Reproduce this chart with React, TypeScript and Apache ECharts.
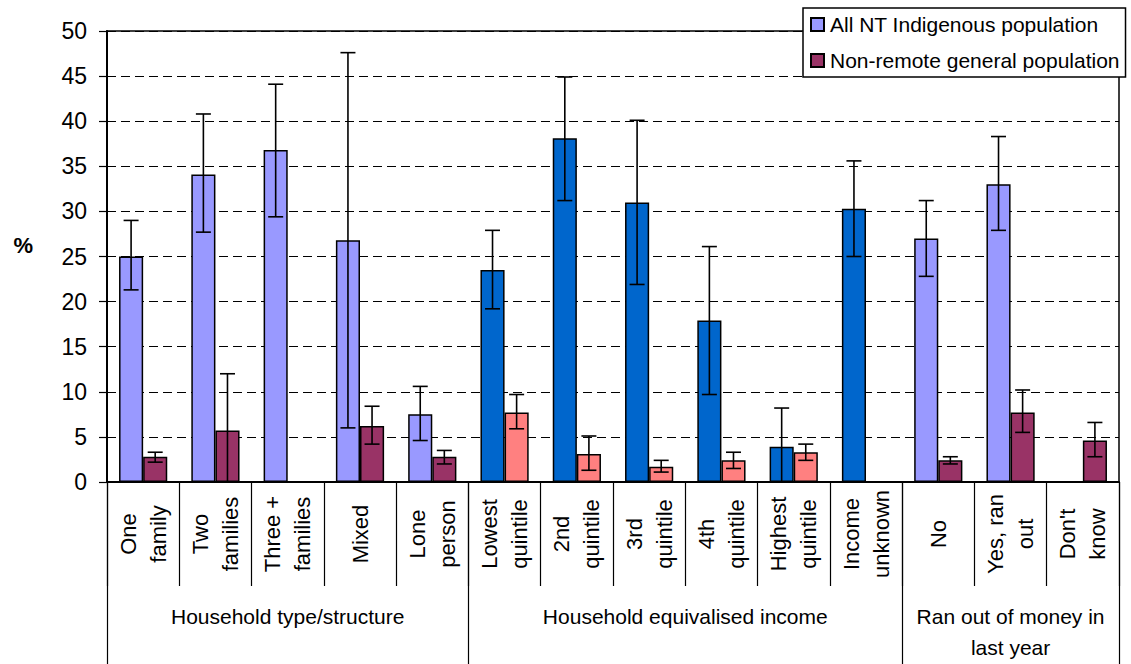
import { useEffect, useRef } from 'react';
import * as echarts from 'echarts';

// Category labels along the x axis (two-line labels are drawn rotated)
const categories = [
  'One\nfamily',
  'Two\nfamilies',
  'Three +\nfamilies',
  'Mixed',
  'Lone\nperson',
  'Lowest\nquintile',
  '2nd\nquintile',
  '3rd\nquintile',
  '4th\nquintile',
  'Highest\nquintile',
  'Income\nunknown',
  'No',
  'Yes, ran\nout',
  "Don't\nknow",
];

// Group headings under the category labels
const groupNames = ['Household type/structure', 'Household equivalised income', 'Ran out of money in\nlast year'];
const groupBounds = [0, 5, 11, 14];
const groupCentres = [2.5, 8, 12.5];
const groupOfCategory = [0, 0, 0, 0, 0, 1, 1, 1, 1, 1, 1, 2, 2, 2];

const seriesNames = ['All NT Indigenous population', 'Non-remote general population'];

// All NT Indigenous population (%), with 95% confidence limits
const indigenous = [25.0, 34.1, 36.8, 26.8, 7.5, 23.5, 38.1, 31.0, 17.9, 3.9, 30.3, 27.0, 33.0, null];
const indigenousLow = [21.3, 27.7, 29.4, 6.0, 4.6, 19.2, 31.2, 21.9, 9.7, 0, 25.0, 22.8, 27.9, null];
const indigenousHigh = [29.0, 40.8, 44.1, 47.6, 10.6, 27.9, 44.9, 40.1, 26.1, 8.2, 35.6, 31.2, 38.3, null];

// Non-remote general population (%), with 95% confidence limits
const general = [2.8, 5.7, null, 6.2, 2.8, 7.7, 3.1, 1.7, 2.4, 3.3, null, 2.4, 7.7, 4.6];
const generalLow = [2.2, 0, null, 4.2, 2.0, 5.9, 1.3, 1.1, 1.5, 2.4, null, 2.0, 5.5, 2.8];
const generalHigh = [3.3, 12.0, null, 8.4, 3.5, 9.7, 5.1, 2.4, 3.3, 4.2, null, 2.8, 10.2, 6.6];

const FONT = "Arial, 'Liberation Sans', sans-serif";
const CATEGORY_GAP = 1 / 3;

const indigenousColours = ['#9999FF', '#0066CC', '#9999FF'];
const generalColours = ['#993366', '#FF8080', '#993366'];

function barData(values: (number | null)[], colours: string[]) {
  return values.map((v, i) => ({
    value: v,
    itemStyle: { color: colours[groupOfCategory[i]] },
  }));
}

function errorBars(name: string, low: (number | null)[], high: (number | null)[], side: number) {
  const data: number[][] = [];
  low.forEach((l, i) => {
    if (l != null && high[i] != null) data.push([i, l, high[i] as number]);
  });
  return {
    type: 'custom',
    name,
    xAxisIndex: 0,
    yAxisIndex: 0,
    z: 5,
    silent: true,
    encode: { x: 0, y: [1, 2] },
    data,
    renderItem: (_params: any, api: any) => {
      const i = api.value(0);
      const catW = api.size([1, 0])[0];
      const barW = (catW * (1 - CATEGORY_GAP)) / 2;
      const cx = api.coord([i, 0])[0] + (side * barW) / 2;
      const yLow = api.coord([i, api.value(1)])[1];
      const yHigh = api.coord([i, api.value(2)])[1];
      const cap = 7.5;
      const style = { stroke: '#000', lineWidth: 1.6 };
      return {
        type: 'group',
        children: [
          { type: 'line', shape: { x1: cx, y1: yHigh, x2: cx, y2: yLow }, style },
          { type: 'line', shape: { x1: cx - cap, y1: yHigh, x2: cx + cap, y2: yHigh }, style },
          { type: 'line', shape: { x1: cx - cap, y1: yLow, x2: cx + cap, y2: yLow }, style },
        ],
      };
    },
  };
}

export default function App() {
  const ref = useRef<HTMLDivElement>(null);

  useEffect(() => {
    if (!ref.current) return;
    const chart = echarts.init(ref.current, undefined, { renderer: 'svg' });
    chart.setOption({
      animation: false,
      backgroundColor: '#fff',
      textStyle: { fontFamily: FONT, color: '#000' },
      grid: {
        left: 107,
        right: 12,
        top: 31,
        bottom: 182,
        show: true,
        borderColor: '#000',
        borderWidth: 1.5,
        backgroundColor: 'transparent',
      },
      legend: {
        data: seriesNames,
        orient: 'vertical',
        left: 803,
        top: 8,
        padding: [6, 6, 6, 7],
        itemGap: 15,
        itemWidth: 13,
        itemHeight: 13,
        icon: 'rect',
        backgroundColor: '#fff',
        borderColor: '#000',
        borderWidth: 1.5,
        borderRadius: 0,
        textStyle: { fontSize: 21, color: '#000', fontFamily: FONT, padding: [0, 0, 0, 1] },
      },
      xAxis: [
        {
          type: 'category',
          data: categories,
          boundaryGap: true,
          axisLine: { show: true, lineStyle: { color: '#000', width: 2 } },
          axisTick: { show: true, interval: 0, length: 104, lineStyle: { color: '#000', width: 1.2 } },
          axisLabel: {
            interval: 0,
            rotate: 90,
            align: 'center',
            verticalAlign: 'middle',
            margin: 52,
            fontSize: 22,
            lineHeight: 30,
            color: '#000',
            fontFamily: FONT,
          },
          splitLine: { show: false },
        },
        {
          type: 'value',
          position: 'bottom',
          min: 0,
          max: 14,
          axisLine: { show: false },
          splitLine: { show: false },
          axisTick: {
            show: true,
            customValues: groupBounds,
            length: 182,
            lineStyle: { color: '#000', width: 1.2 },
          },
          axisLabel: {
            show: true,
            customValues: groupCentres,
            formatter: (v: number) => groupNames[groupCentres.indexOf(v)] ?? '',
            verticalAlign: 'top',
            align: 'center',
            margin: 119,
            fontSize: 21,
            lineHeight: 31,
            color: '#000',
            fontFamily: FONT,
          },
        },
      ],
      yAxis: {
        type: 'value',
        min: 0,
        max: 50,
        interval: 5,
        name: '%',
        nameLocation: 'middle',
        nameRotate: 0,
        nameGap: 74,
        nameTextStyle: {
          fontSize: 22,
          fontWeight: 'bold',
          color: '#000',
          fontFamily: FONT,
          verticalAlign: 'bottom',
        },
        axisLine: { show: true, lineStyle: { color: '#000', width: 2 } },
        axisTick: { show: true, inside: false, length: 8, lineStyle: { color: '#000', width: 1.2 } },
        axisLabel: { fontSize: 23, color: '#000', margin: 20, fontFamily: FONT },
        splitLine: { show: true, lineStyle: { color: '#000', width: 1, type: [9, 5] } },
      },
      series: [
        {
          name: seriesNames[0],
          type: 'bar',
          xAxisIndex: 0,
          yAxisIndex: 0,
          barGap: '0%',
          barCategoryGap: '33.3%',
          itemStyle: { color: indigenousColours[0], borderColor: '#000', borderWidth: 1.5 },
          data: barData(indigenous, indigenousColours),
        },
        {
          name: seriesNames[1],
          type: 'bar',
          xAxisIndex: 0,
          yAxisIndex: 0,
          barGap: '0%',
          barCategoryGap: '33.3%',
          itemStyle: { color: generalColours[0], borderColor: '#000', borderWidth: 1.5 },
          data: barData(general, generalColours),
        },
        errorBars('Indigenous 95% CI', indigenousLow, indigenousHigh, -1),
        errorBars('General 95% CI', generalLow, generalHigh, 1),
      ],
    });
    return () => chart.dispose();
  }, []);

  return (
    <div
      ref={ref}
      style={{ position: 'fixed', left: 0, top: 0, width: 1131, height: 664, background: '#fff' }}
    />
  );
}
